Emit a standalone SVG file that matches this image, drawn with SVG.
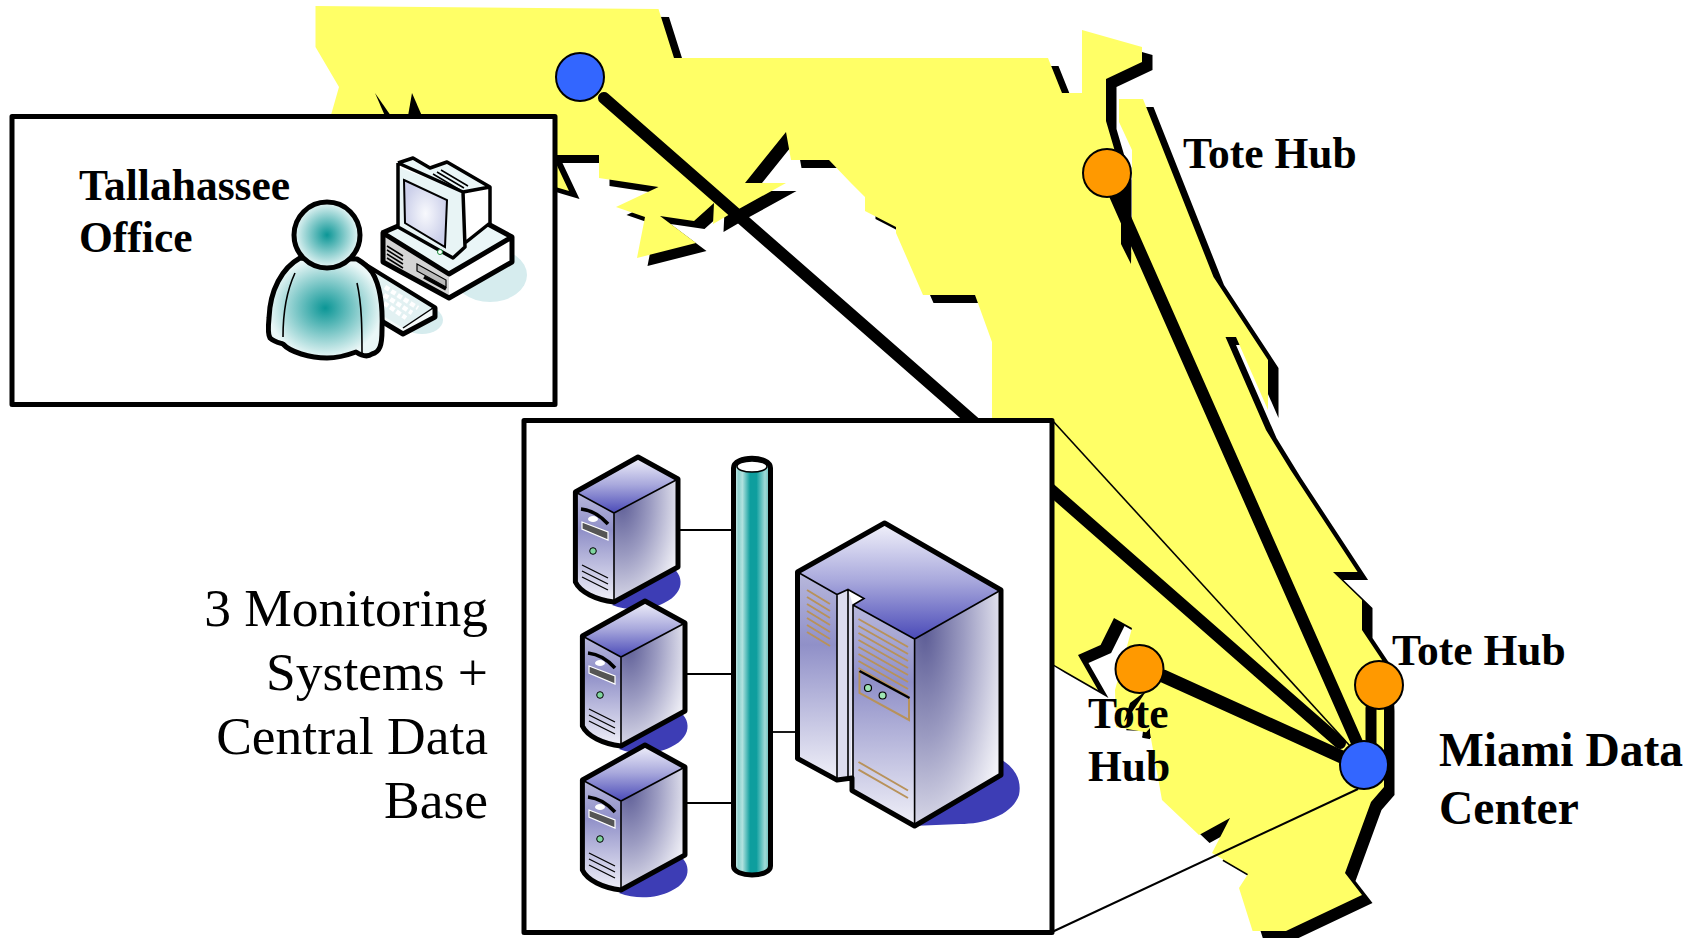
<svg xmlns="http://www.w3.org/2000/svg" xmlns:xlink="http://www.w3.org/1999/xlink" width="1701" height="938" viewBox="0 0 1701 938">
<style>
.t{font-family:"Liberation Serif","Times New Roman",serif;fill:#000}
.b{font-weight:bold;font-size:43.5px}
.c{font-weight:bold;font-size:47.5px}
.r{font-size:53.5px;text-anchor:end}
.hub{fill:#ff9900;stroke:#000;stroke-width:2}
.site{fill:#3366ff;stroke:#000;stroke-width:2}
.link{stroke:#000;stroke-linecap:round;fill:none}
.box{fill:#fff;stroke:#000;stroke-width:5;stroke-linejoin:round}
.o{stroke:#000;stroke-width:5;stroke-linejoin:round}
.tan{stroke:#b8925a;stroke-width:2;fill:none}
</style>
<defs>
<polygon id="fl" points="315.5,6 658.5,9 674,58 1048,58 1062,93 1082,93 1082,30 1142,47 1142,62 1106,79 1106,121 1121,172 1121,244 1131,264 1132,220 1132,150 1119,122 1119,99 1143,99 1213.5,277 1268,360 1268,410 1236,337 1225.5,337 1266,430 1290.6,470 1357.6,572 1333,572 1362,600 1362,630 1382,660 1384,703 1384,787 1371,802 1345,873 1362,895 1286,931 1252.6,931 1239,888 1248,874 1212,853 1230,818 1199,835 1162,800 1150,733 1116,727 1115,690 1132,628 1114,618 1100.6,645 1078,655 1098,690 1054.5,665 1030,650 992,417 992,342 975,295 923,295 896,233 896,227 865,211 865,197 850,182 829,160 791,160 786,132 745,183 786,183 737,210 713,224 714,203 694,221 660,216 696,243 637,258 645,217 616,207 658.5,187 599,178 599,155 552,155 569,191 552,186 500,170 331,115 339,87 315.5,47"/>
<linearGradient id="topG" x1="0" y1="0" x2="0" y2="1"><stop offset="0" stop-color="#f2f2fb"/><stop offset=".5" stop-color="#a8a8dc"/><stop offset="1" stop-color="#4a4ab8"/></linearGradient>
<linearGradient id="frontG" x1="0" y1="0" x2="0" y2="1"><stop offset="0" stop-color="#b8b8dc"/><stop offset=".35" stop-color="#9090c8"/><stop offset="1" stop-color="#f0f0f8"/></linearGradient>
<radialGradient id="sideG" cx=".12" cy=".18" r="1"><stop offset="0" stop-color="#5d5d96"/><stop offset=".45" stop-color="#9c9cc2"/><stop offset=".85" stop-color="#dcdcea"/><stop offset="1" stop-color="#f2f2f8"/></radialGradient>
<linearGradient id="busG" x1="0" y1="0" x2="1" y2="0"><stop offset="0" stop-color="#e4f5f4"/><stop offset=".14" stop-color="#8ed2cf"/><stop offset=".24" stop-color="#b2e2df"/><stop offset=".45" stop-color="#0e9e9e"/><stop offset=".62" stop-color="#0e9e9e"/><stop offset=".85" stop-color="#a0dbd8"/><stop offset="1" stop-color="#5fb8b5"/></linearGradient>
<radialGradient id="pers"><stop offset="0" stop-color="#0b9696"/><stop offset="1" stop-color="#eaf7f7"/></radialGradient>
<radialGradient id="scr"><stop offset="0" stop-color="#f8f9fd"/><stop offset="1" stop-color="#ccd0ea"/></radialGradient>
<g id="server">
<path d="M665,564 C684,570 688,592 664,603 C650,610 630,612 612,605 Z" fill="#3d3db5"/>
<path d="M575.4,492 L614,513 L614,602 C596,600 580,592 575.4,582 Z" fill="url(#frontG)"/>
<polygon points="614,513 678,479 678,567 614,602" fill="url(#sideG)"/>
<polygon points="638,457 678,479 614,513 575.4,492" fill="url(#topG)"/>
<path d="M575.4,492 L638,457 L678,479 L678,567 L614,602 C596,600 580,592 575.4,582 Z" fill="none" class="o"/>
<path d="M575.4,492 L614,513 L678,479 M614,513 V602" fill="none" stroke="#000" stroke-width="1.6"/>
<path d="M581,509 C590,510 600,515 608,524" fill="none" stroke="#000" stroke-width="3.5"/>
<ellipse cx="593" cy="519" rx="5" ry="3" fill="#fff"/>
<path d="M582,522 L608,532 V540 L582,529 Z" fill="#555" stroke="#fff" stroke-width="1.2"/>
<circle cx="593" cy="551" r="3.3" fill="#7fd69f" stroke="#000" stroke-width="1"/>
<path d="M582,565 L608,578 M582,571 L608,584 M582,577 L608,590" fill="none" stroke="#000" stroke-width="1.3"/>
</g>
</defs>

<g id="florida-map">
<use xlink:href="#fl" href="#fl" fill="#000" transform="translate(10.5,8)"/>
<polygon points="1120,730 1143,731 1141,748 1120,748" fill="#fff"/>
<polygon points="1150,738 1172,738 1172,750 1150,750" fill="#fff"/>
<use xlink:href="#fl" href="#fl" fill="#ffff66"/>
<polygon points="375,93 391,116 385,116" fill="#000"/>
<polygon points="412,93 422,116 408,116" fill="#000"/>
<polygon points="1147,690 1130,703 1124,722 1132,712" fill="#000"/>
<polygon points="1142,737 1150,728 1150,737" fill="#000"/>
</g>

<g id="connectors">
<line class="link" x1="604" y1="98" x2="1340" y2="743" stroke-width="12"/>
<line class="link" x1="1115" y1="195" x2="1357.6" y2="744" stroke-width="12"/>
<line class="link" x1="1163" y1="676" x2="1344" y2="758" stroke-width="13"/>
<line class="link" x1="1371" y1="708" x2="1371" y2="744" stroke-width="11"/>
<line x1="1052" y1="420" x2="1350" y2="746" stroke="#000" stroke-width="1.6"/>
<line x1="1052" y1="932" x2="1358" y2="789" stroke="#000" stroke-width="2"/>
</g>

<g id="tallahassee-site"><circle class="site" cx="580" cy="77" r="24"/></g>
<g id="tote-hub-north"><circle class="hub" cx="1107" cy="173" r="24"/></g>
<g id="tote-hub-west"><circle class="hub" cx="1139.5" cy="669" r="24"/></g>
<g id="tote-hub-east"><circle class="hub" cx="1379" cy="685" r="24"/></g>
<g id="miami-site"><circle class="site" cx="1364" cy="765" r="24"/></g>

<g id="tallahassee-office">
<rect class="box" x="12" y="116.5" width="543" height="288"/>
<ellipse cx="490" cy="275" rx="37" ry="27" fill="#d6ecee"/>
<ellipse cx="422" cy="320" rx="21" ry="14" fill="#d6ecee"/>
<g id="computer">
<polygon points="382,233 398,226 488,224 512,237 449,274" fill="#eaf6f7"/>
<polygon points="382,233 449,274 449,298 383,262" fill="#d4d4d4"/>
<polygon points="449,274 512,237 512,262 449,298" fill="#fff"/>
<path d="M382,233 L398,226 M488,224 L512,237 V262 L449,298 L383,262 V233 L449,274 L512,237" fill="none" class="o"/>
<path d="M387,246 L403,256 M387,250 L403,260 M387,254 L403,264 M387,258 L403,268" stroke="#000" stroke-width="1.5" fill="none"/>
<path d="M417,264 L446,280 V287 L417,271 Z" fill="#bbb" stroke="#000" stroke-width="1.2"/>
<path d="M424,277 L446,289" stroke="#000" stroke-width="3.5" fill="none"/>
<polygon points="463,192 490,187 490,223 465,243" fill="#fff"/>
<polygon points="398,163 413,158 430,168 447,162 490,187 463,192" fill="#eaf6f7"/>
<path d="M398,167 L463,192 L465,247 L453,258 L398,227 Z" fill="#e8f4f5"/>
<path d="M404,180 L447,200 L445,247 L405,223 Z" fill="url(#scr)" stroke="#000" stroke-width="2"/>
<path d="M398,163 L413,158 L430,168 L447,162 L490,187 V223 L465,243 M398,163 V227 L453,258 L465,247 L463,192 L398,163 M463,192 L490,187" fill="none" stroke="#000" stroke-width="3.5" stroke-linejoin="round"/>
<path d="M441,170 L468,186 M437,172 L464,188 M433,174 L460,190" stroke="#000" stroke-width="1.5" fill="none"/>
<circle cx="440" cy="252" r="2.5" fill="#fff" stroke="#1a8a3a" stroke-width="1"/>
</g>
<g id="keyboard">
<path d="M365,265 L435,308 V317 L403,334 L378,319 V300 Z" fill="#f4fafa" class="o" stroke-width="3.5"/>
<polygon points="367,268 432,308 403,328 380,314" fill="#e2f1f2"/>
<path d="M403,328 L433,308" stroke="#000" stroke-width="1.5"/>
<path d="M385,287 L418,308 M384,295 L412,313 M384,303 L406,318" stroke="#fff" stroke-width="4.5" stroke-dasharray="5 2.500" fill="none"/>
</g>
<g id="person">
<path d="M300,258 C282,268 270,290 269,318 C268,328 268,335 270,338 C274,342 280,343 283,344 C290,352 310,358 327,358 C338,358 348,355 356,352 C362,356 368,357 372,354 C380,352 382,345 382,330 C383,305 380,285 372,272 C368,266 362,262 357,259 Z" fill="url(#pers)" class="o" stroke-width="5.500"/>
<path d="M295,273 C287,290 283,310 283,337 M357,283 C362,305 362,330 362,353" fill="none" stroke="#000" stroke-width="1.6"/>
<circle cx="327" cy="235" r="33" fill="url(#pers)" class="o" stroke-width="5.500"/>
</g>
<text class="t b" x="79" y="200">Tallahassee</text>
<text class="t b" x="79" y="252">Office</text>
</g>

<g id="central-systems">
<rect class="box" x="524" y="420.5" width="528" height="512"/>
<g stroke="#000" stroke-width="1.8"><line x1="678" y1="530" x2="733" y2="530"/><line x1="685" y1="674" x2="733" y2="674"/><line x1="685" y1="803" x2="733" y2="803"/><line x1="772" y1="732" x2="798" y2="732"/></g>
<g id="server-1"><use xlink:href="#server" href="#server"/></g>
<g id="server-2"><use xlink:href="#server" href="#server" transform="translate(7,144)"/></g>
<g id="server-3"><use xlink:href="#server" href="#server" transform="translate(7,288)"/></g>
<g id="bus">
<path d="M733.500,468 C733.500,455 770.500,455 770.500,468 V866 C770.500,878 733.500,878 733.500,866 Z" fill="url(#busG)" class="o"/>
<ellipse cx="752" cy="466.500" rx="15" ry="5.500" fill="#fff" stroke="#000" stroke-width="1.6"/>
</g>
<g id="database-server">
<path d="M1002,760 C1015,768 1022,780 1019,795 C1012,815 985,824 960,824 L912,826 Z" fill="#3d3db5"/>
<polygon points="797.500,572 837,594.500 837,780 797.500,758.500" fill="url(#frontG)"/>
<polygon points="837,594.500 848,589.500 853,605 851,779 837,780" fill="#dcdcee"/>
<polygon points="853,605 914.600,639 914.600,826 852,790.500 852,778" fill="url(#frontG)"/>
<polygon points="914.600,639 1001,590 1001,775 914.600,826" fill="url(#sideG)"/>
<polygon points="884.600,523 1001,590 914.600,639 853,605 864,598.500 848,589.500 837,594.500 797.500,572" fill="url(#topG)"/>
<path d="M797.500,572 L884.600,523 L1001,590 V775 L914.600,826 L852,790.500 V778 L837,780 L797.500,758.500 Z" fill="none" class="o"/>
<path d="M797.500,572 L837,594.500 V780 M837,594.500 L848,589.500 L864,598.500 L853,605 V778 M853,605 L914.600,639 L1001,590 M914.600,639 V826 M848,589.500 V778" fill="none" stroke="#000" stroke-width="1.6"/>
<path class="tan" d="M807,590 L830,604 M807,597 L830,611 M807,604 L830,618 M807,611 L830,625 M807,618 L830,632 M807,625 L830,639 M807,632 L830,646"/>
<path class="tan" d="M858.500,619 L908,647 M858.500,626 L908,654 M858.500,633 L908,661 M858.500,640 L908,668 M858.500,647 L908,675 M858.500,654 L908,682 M858.500,661 L908,689 M858.500,668 L908,696 M858.500,762 L908,790.500 M858.500,769.600 L908,798"/>
<path class="tan" d="M859.500,671 V693 L909,720 V698"/>
<path d="M859.500,671 L909.500,698" stroke="#000" stroke-width="2.500" fill="none"/>
<circle cx="868" cy="688" r="3.500" fill="#9fe6b4" stroke="#000" stroke-width="1.200"/>
<circle cx="882.600" cy="695.500" r="3.500" fill="#9fe6b4" stroke="#000" stroke-width="1.200"/>
</g>
</g>

<g id="labels">
<text class="t b" x="1183" y="168">Tote Hub</text>
<text class="t b" x="1392" y="665">Tote Hub</text>
<text class="t b" x="1088" y="728">Tote</text>
<text class="t b" x="1088" y="781">Hub</text>
<text class="t c" x="1439" y="766">Miami Data</text>
<text class="t c" x="1439" y="824">Center</text>
<text class="t r" x="488" y="626">3 Monitoring</text>
<text class="t r" x="488" y="690">Systems +</text>
<text class="t r" x="488" y="754">Central Data</text>
<text class="t r" x="488" y="818">Base</text>
</g>
</svg>
